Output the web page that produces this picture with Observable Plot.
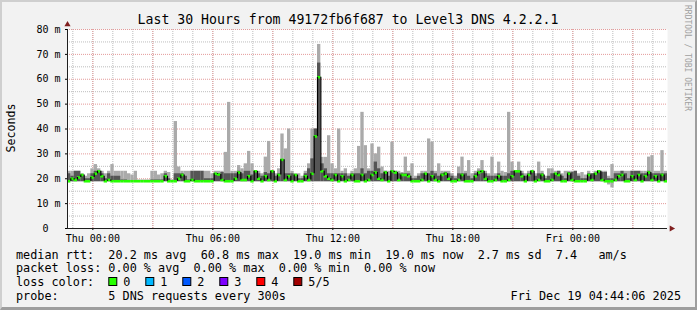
<!DOCTYPE html>
<html><head><meta charset="utf-8">
<script src="https://cdn.jsdelivr.net/npm/d3@7"></script>
<script src="https://cdn.jsdelivr.net/npm/@observablehq/plot@0.6"></script>
<style>
html,body{margin:0;padding:0;background:#fff}
#wrap{position:relative;width:697px;height:310px;background:#f2f2f2;overflow:hidden}
#wrap .shade{position:absolute;left:0;top:0;width:697px;height:310px;box-sizing:border-box;
 border-top:2px solid #cfcfcf;border-left:2px solid #cfcfcf;border-right:2px solid #9e9e9e;border-bottom:3px solid #9e9e9e;pointer-events:none}
#wrap svg{position:absolute;left:0;top:0}
</style></head><body>
<div id="wrap"><div class="shade"></div></div>
<script>
// ---- data (10-minute bins, 30 hours ending Fri Dec 19 04:44:06) ----
const binMinutes = 10;
const rangeMinutes = 1800;
const hi = [
 23,23,23,23,22,21,22,24,25.7,24, 23,22,23,25.7,23,23,23,23,22,21.5,
 23,19.5,19.5,19.5,19.5,23,23,21.5,22,23, 22.5,19.5,43,24.7,23,23,23,23,23,23,
 23,23,23,22,23, 23,23,30.6,50.7,23, 23,25.3,24,26,31, 26,23,23,22,28.7,
 35,23,22,24,38, 32,40,23,22,22, 21,23,26,40,40, 74,28.6,28.6,37.3,26,
 24,40,23,24,22, 23,24,33,46.7,33.3, 24,34,30,32.7,24.7, 23,23,34.7,23,23,
 22.5,28.7,23,26,21, 22,23,23,36,34.7, 23,26,23,23,23, 22,21,24.7,28.7,23,
 27.3,22,23,24,27.3, 23,22,28.7,22,26.7, 23,22.5,46.7,26.7,23, 26.7,23,22,23,23,
 22,26.7,23,21,24, 24,23,23,22,23, 23,23,23,22,22.5, 21.5,23,22,23,23,
 23,23,21,25.7,23, 23,23,23,23,23, 23,23,23,23,28.7, 29.3,23,23,31.3,23
];
const dk = [
 22,21,23,23,21,20,20,22,23,23, 22,20,22,21,21,21,19.5,19.5,19,19,
 19,19,19,19,19,19.5,19.5,19.5,19.5,22, 20,19,22,22,22,21,19.5,23,23,23,
 23,20,20,20,22, 22,22.5,22,22,22, 22,23,22,23,23, 21.5,23,22,21,22.5,
 22,23,21,22,27.6, 22,22,22,21,20, 20,22,24,28,40, 66.5,26,24,22,22,
 22,22,22,22,21, 22,22,22,24,22, 23,23,26.7,24,22, 23,21,23,23,22,
 22,22,22,20,20, 21,22,22,22,23, 22,21,22,22.5,22, 21,20,22,22,22,
 21,20,22,23,23, 22,21,21,21,22, 21,21,22,23,23, 23,22,21,22,23,
 21,22,22,20,21, 22,22,23,21,20, 22.5,22.5,23,21,20, 20,22,22,22,23,
 22.5,22.5,20,20,22, 22,23,22,20,23, 23,23,22,22,23, 22,22,22,22,22
];
const med = [
 19,20,19.5,20.5,21.5,19,19,20.5,22,23, 21,19,19.5,19,19,19,19,19,19,19,
 19,19,19,19,19,19,19,19,19,21, 19,19,19,20,21.5,19,19,19.5,19,19,
 19,19,19,19,22, 21.7,19.5,19,19,19, 20,22.5,19.5,19.5,21, 19,23,20,19,21,
 19.5,23,19,21.5,27.6, 19.5,21,19,21.5,19, 19,21,19.5,22,37, 60.8,23,21,20,19.5,
 21.5,19,21,19,19.5, 21.5,19,19,21.5,19, 19.5,21.5,22.5,20,19.5, 22.5,19,23,22.5,19.5,
 21.5,21.5,21,19,19, 19,19.5,22,19,21, 19.5,19,21.5,22,20, 19,19,19.5,21.5,19,
 19,19,21,22.5,23, 20,19,19,19.5,21, 19,19,19.5,21,23, 23,21,19,21.5,23,
 19,19.5,21.5,19,19, 19.5,22,21.5,19,19, 22,19.5,19,19,19, 19,21.5,19.5,22,23,
 19.5,19,19,19,19.5, 21,21.5,19,19,21, 19.5,21.5,19,21,22.5, 19.5,21,19,21.5,19
];
const smokeFloor = 18.8;
const floorDips = [[162, 17.5], [163, 16.3]];

const xTickLabels = ["Thu 00:00", "Thu 06:00", "Thu 12:00", "Thu 18:00", "Fri 00:00"];
const firstMidnight = 76;           // minutes from start to Thu 00:00
const hourOffset = 16;              // minutes from start to first full hour
const yTickValues = [0, 10, 20, 30, 40, 50, 60, 70, 80];
const yTickLabels = ["0\u00a0\u00a0", "10 m", "20 m", "30 m", "40 m", "50 m", "60 m", "70 m", "80 m"];

const title = "Last 30 Hours from 49172fb6f687 to Level3 DNS 4.2.2.1";
const legendLines = [
 "median rtt:  20.2 ms avg  60.8 ms max  19.0 ms min  19.0 ms now  2.7 ms sd  7.4   am/s",
 "packet loss: 0.00 % avg  0.00 % max  0.00 % min  0.00 % now",
 "loss color:",
 "probe:       5 DNS requests every 300s"
];
const lossLabels = ["0", "1", "2", "3", "4", "5/5"];
const lossColors = ["#26ff00", "#00b8ff", "#0059ff", "#7e00ff", "#ff0000", "#a10000"];
const stamp = "Fri Dec 19 04:44:06 2025";

// ---- derived tables ----
const lo = med.map(() => smokeFloor);
floorDips.forEach(([i, v]) => lo[i] = v);
const bins = med.map((m, i) => ({t: i * binMinutes, t2: (i + 1) * binMinutes, lo: lo[i], dlo: smokeFloor, dk: dk[i], hi: hi[i], med: m}));
const steps = bins.slice(1).map((b, i) => ({t: b.t, a: bins[i].med, b: b.med}));
const hours = d3.range(hourOffset, rangeMinutes, 60);
const majorX = d3.range(firstMidnight, rangeMinutes, 180);
const labelX = xTickLabels.map((_, i) => firstMidnight + i * 360);
const minorY = d3.range(5, 80, 10);
const majorY = d3.range(10, 81, 10);

const mono = "'DejaVu Sans Mono', monospace";

const chart = Plot.plot({
  width: 697, height: 310,
  marginTop: 29, marginBottom: 82, marginLeft: 67, marginRight: 30,
  style: {fontFamily: mono, fontSize: "10px", background: "transparent", color: "#000", overflow: "visible"},
  x: {domain: [0, rangeMinutes]},
  y: {domain: [0, 80]},
  marks: [
    Plot.frame({fill: "#ffffff", stroke: null}),
    Plot.ruleX(hours, {stroke: "#bdbdbd", strokeDasharray: "1,1"}),
    Plot.ruleY(minorY, {stroke: "#bdbdbd", strokeDasharray: "1,1"}),
    Plot.ruleX(majorX, {stroke: "#e49a9a", strokeDasharray: "1,1"}),
    Plot.ruleY(majorY, {stroke: "#e49a9a", strokeDasharray: "1,1"}),
    Plot.rectY(bins, {x1: "t", x2: "t2", y1: "lo", y2: "hi", fill: "#aaaaaa"}),
    Plot.rectY(bins, {x1: "t", x2: "t2", y1: "dlo", y2: "dk", fill: "#555555"}),
    Plot.ruleY(bins, {y: "med", x1: "t", x2: "t2", stroke: "#26ff00", strokeWidth: 2.6}),
    Plot.ruleX(steps, {x: "t", y1: "a", y2: "b", stroke: "#000", strokeWidth: 1.2}),
    Plot.axisY({ticks: yTickValues, tickFormat: (d) => yTickLabels[yTickValues.indexOf(d)], tickSize: 2, tickPadding: 5, label: null, fontSize: 10}),
    Plot.axisX({ticks: labelX, tickFormat: (d) => xTickLabels[labelX.indexOf(d)], tickSize: 2, tickPadding: 4, label: null, fontSize: 10}),
    Plot.ruleX([0], {stroke: "#1f1f1f"}),
    Plot.ruleY([0], {stroke: "#1f1f1f"}),
    Plot.dot([80], {x: () => 0, y: (d) => d, symbol: "triangle", r: 2.3, fill: "#801f1f", stroke: null, dy: -5}),
    Plot.dot([0], {x: () => rangeMinutes, y: (d) => d, symbol: "triangle", r: 2.3, fill: "#801f1f", stroke: null, rotate: 90, dx: 4})
  ]
});
const wrap = document.getElementById("wrap");
wrap.appendChild(chart);

// ---- text overlay ----
const ov = d3.select(wrap).append("svg").attr("width", 697).attr("height", 310)
  .style("font-family", mono).style("pointer-events", "none");
ov.append("text").attr("x", 348).attr("y", 24).attr("text-anchor", "middle")
  .style("font-size", "13.2px").attr("fill", "#000").text(title);
ov.append("text").attr("transform", "translate(15,128) rotate(-90)").attr("text-anchor", "middle")
  .style("font-size", "11.6px").attr("fill", "#000").text("Seconds");
ov.append("text").attr("transform", "translate(685,5) rotate(90)").attr("text-anchor", "start")
  .style("font-size", "8px").attr("fill", "#a0a0a0").text("RRDTOOL / TOBI OETIKER");
const rowY = [258.5, 272, 285.7, 299.5];
legendLines.forEach((s, i) => {
  ov.append("text").attr("x", 16).attr("y", rowY[i]).style("font-size", "11.8px")
    .style("white-space", "pre").attr("xml:space", "preserve").attr("fill", "#000").text(s);
});
lossLabels.forEach((lab, i) => {
  const bx = 108.3 + i * 37;
  ov.append("rect").attr("x", bx + 0.5).attr("y", 277.5).attr("width", 8).attr("height", 8)
    .attr("fill", lossColors[i]).attr("stroke", "#000").attr("stroke-width", 1);
  ov.append("text").attr("x", bx + 15).attr("y", rowY[2]).style("font-size", "11.8px").attr("fill", "#000").text(lab);
});
ov.append("text").attr("x", 681).attr("y", rowY[3]).attr("text-anchor", "end")
  .style("font-size", "11.8px").attr("fill", "#000").text(stamp);
</script>
</body></html>
